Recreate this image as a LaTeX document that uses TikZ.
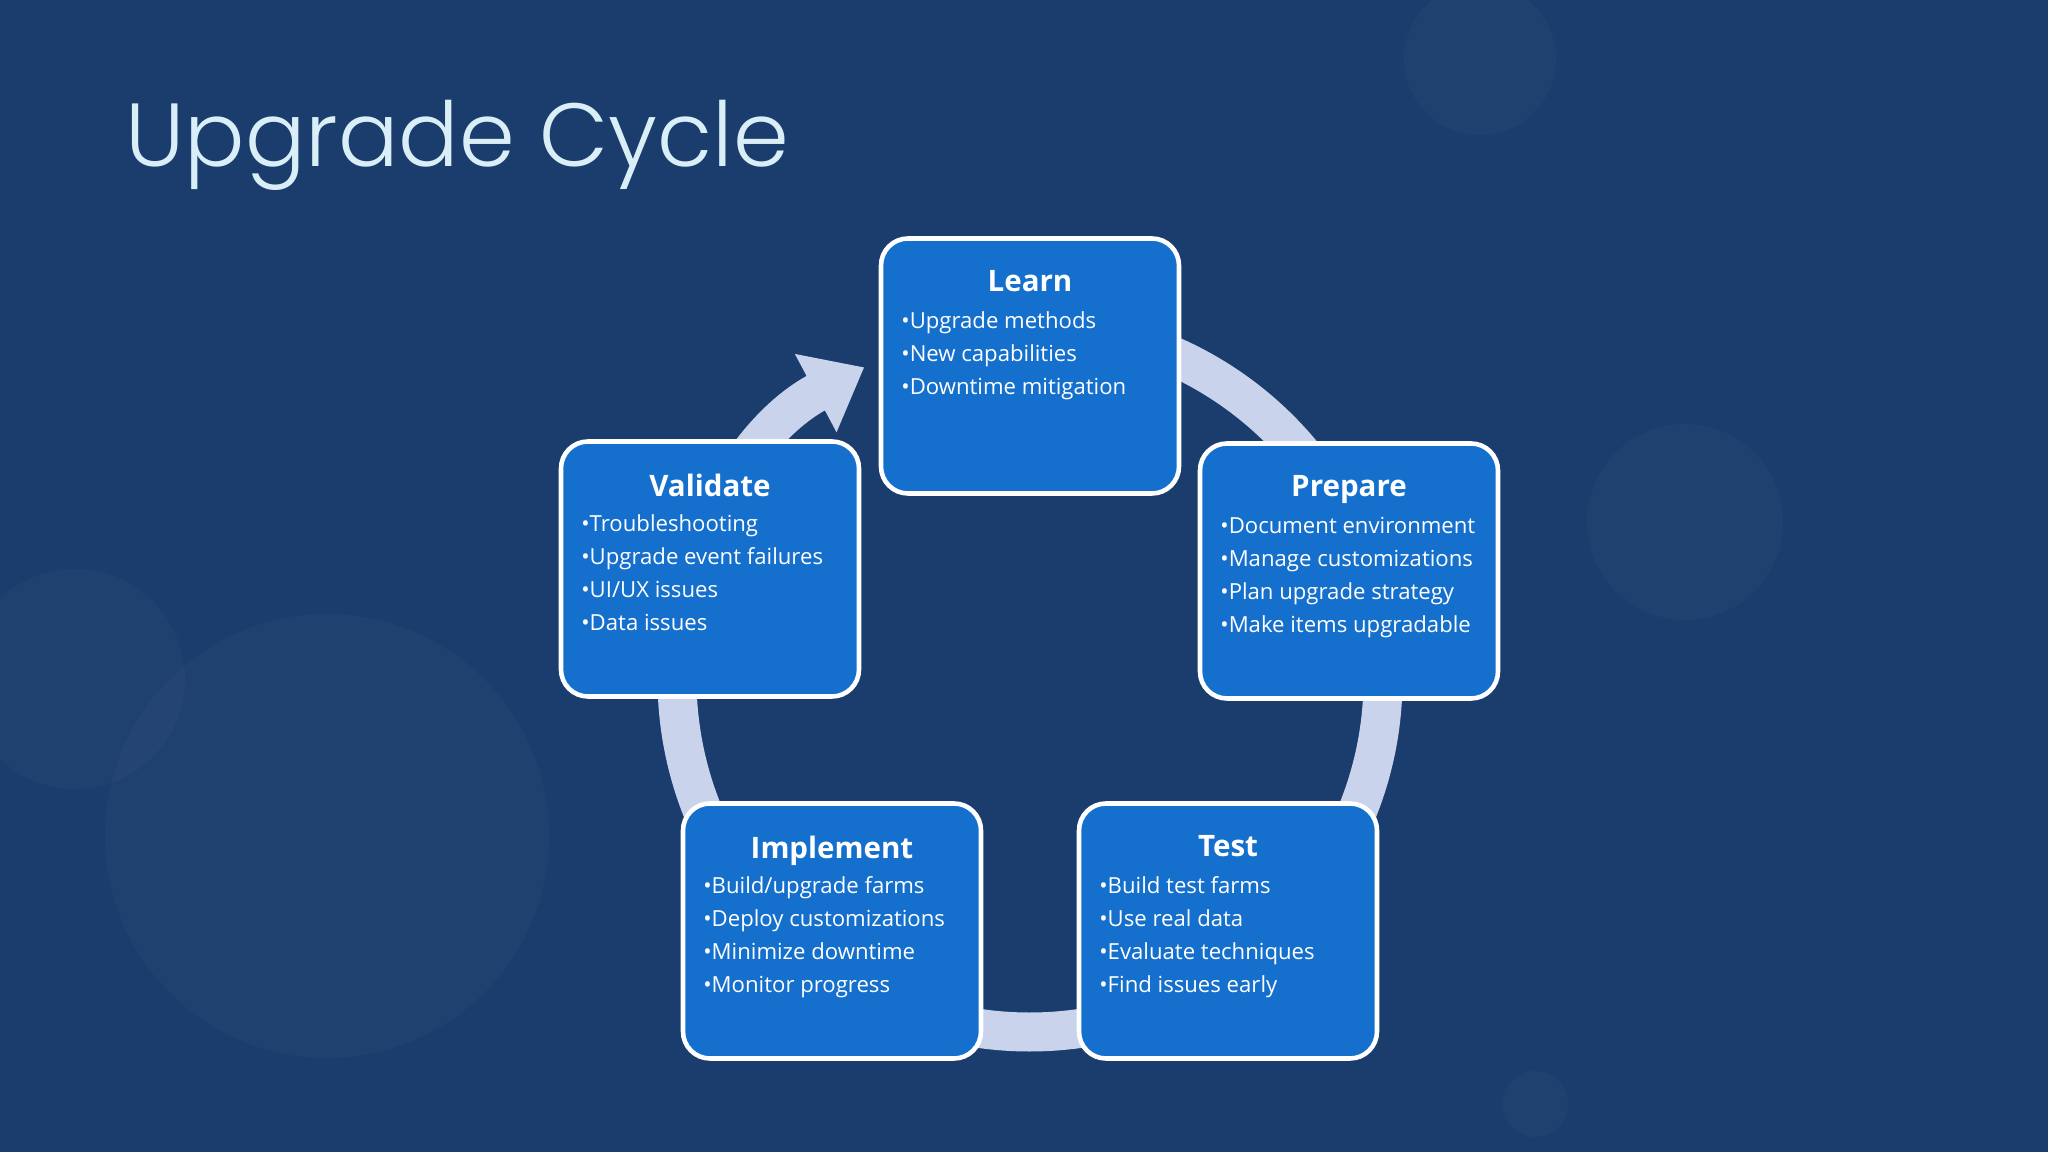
\documentclass[tikz,border=0pt]{standalone}
\usepackage{fontspec}
\setmainfont{Open Sans}
\newfontfamily\titlefont{Poppins}[UprightFont={* Light}]
\usetikzlibrary{arrows.meta}
\definecolor{bg}{HTML}{1A3D6D}
\definecolor{boxfill}{HTML}{1570CD}
\definecolor{ring}{HTML}{C9D3EC}
\definecolor{titlec}{HTML}{D9EEF6}
\tikzset{
  stage/.style={draw=white, line width=1.3pt, fill=boxfill, rounded corners=0.27cm, minimum width=2.98cm, minimum height=2.55cm},
  head/.style={font=\fontsize{8.4}{10}\selectfont\bfseries, text=white, anchor=north},
  body/.style={font=\fontsize{6.3}{9.4}\selectfont, text=white, anchor=north west, align=left, inner sep=0pt},
  blob/.style={fill=white, fill opacity=0.022, draw=none}
}
\begin{document}
\begin{tikzpicture}
\useasboundingbox (0,0) rectangle (20.48,11.52);
\fill[bg] (0,0) rectangle (20.48,11.52);
\fill[blob] (3.27,3.16) circle (2.22);
\fill[blob] (0.75,4.73) circle (1.1);
\fill[blob] (16.85,6.30) circle (0.98);
\fill[blob] (14.80,10.93) circle (0.76);
\fill[blob] (15.35,0.48) circle (0.33);
\node[text=titlec, font=\titlefont\fontsize{25.5}{30}\selectfont, anchor=base west, inner sep=0pt] (title) at (1.25,9.85) {Upgrade Cycle};
\coordinate (c) at (10.30,4.73);
\draw[ring, line width=0.39cm, -{Triangle[length=0.55cm, width=0.85cm]}] ([shift={(95:3.53)}]c) arc[start angle=95, end angle=-242, radius=3.53];
\node[stage] (learn) at (10.30,7.86) {};
\node[stage] (prepare) at (13.49,5.81) {};
\node[stage] (test) at (12.28,2.21) {};
\node[stage] (impl) at (8.32,2.21) {};
\node[stage] (valid) at (7.10,5.83) {};
\foreach \n/\h in {learn/Learn, prepare/Prepare, test/Test, impl/Implement, valid/Validate}{
  \node[head] (\n-h) at ([yshift=-0.22cm]\n.north) {\h};
}
\node[body] (learn-b) at ([xshift=0.22cm,yshift=-0.75cm]learn.north west) {•Upgrade methods\\•New capabilities\\•Downtime mitigation};
\node[body] (prepare-b) at ([xshift=0.22cm,yshift=-0.75cm]prepare.north west) {•Document environment\\•Manage customizations\\•Plan upgrade strategy\\•Make items upgradable};
\node[body] (test-b) at ([xshift=0.22cm,yshift=-0.75cm]test.north west) {•Build test farms\\•Use real data\\•Evaluate techniques\\•Find issues early};
\node[body] (impl-b) at ([xshift=0.22cm,yshift=-0.75cm]impl.north west) {•Build/upgrade farms\\•Deploy customizations\\•Minimize downtime\\•Monitor progress};
\node[body] (valid-b) at ([xshift=0.22cm,yshift=-0.75cm]valid.north west) {•Troubleshooting\\•Upgrade event failures\\•UI/UX issues\\•Data issues};
\end{tikzpicture}
\end{document}
